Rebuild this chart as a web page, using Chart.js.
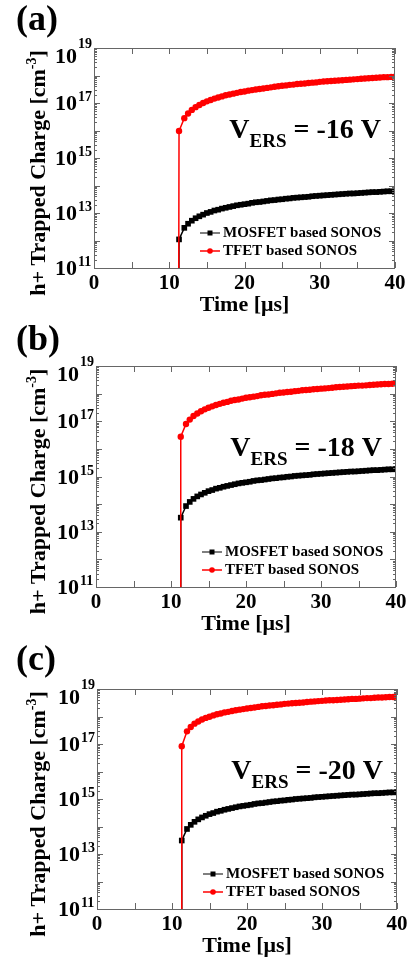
<!DOCTYPE html>
<html>
<head>
<meta charset="utf-8">
<script src="https://cdn.jsdelivr.net/npm/chart.js@4.4.1/dist/chart.umd.min.js"></script>
<style>
  body { margin: 0; background: #fff; }
  canvas { position: absolute; left: 0; }
</style>
</head>
<body>
<canvas id="chartA" width="413" height="320" style="top:0px"></canvas>
<canvas id="chartB" width="413" height="320" style="top:320px"></canvas>
<canvas id="chartC" width="413" height="320" style="top:640px"></canvas>
<script>
// time [us], first point is the off-axis start of the jump
const time = [11.25, 11.3, 12, 12.5, 13, 13.5, 14, 14.5, 15, 15.5, 16, 16.5, 17, 17.5, 18, 18.5, 19, 19.5,
  20, 20.5, 21, 21.5, 22, 22.5, 23, 23.5, 24, 24.5, 25, 25.5, 26, 26.5, 27, 27.5, 28, 28.5, 29, 29.5,
  30, 30.5, 31, 31.5, 32, 32.5, 33, 33.5, 34, 34.5, 35, 35.5, 36, 36.5, 37, 37.5, 38, 38.5, 39, 39.5, 40];

// log10 of trapped charge [cm-3]
const mosfetA = [9, 12.04, 12.46, 12.61, 12.72, 12.81, 12.88, 12.94, 13.00, 13.04, 13.09, 13.12, 13.16, 13.19, 13.22, 13.25, 13.28, 13.30,
  13.32, 13.34, 13.37, 13.39, 13.40, 13.42, 13.44, 13.46, 13.47, 13.49, 13.50, 13.52, 13.53, 13.55, 13.56, 13.57, 13.58, 13.59, 13.61, 13.62,
  13.63, 13.64, 13.65, 13.66, 13.67, 13.68, 13.69, 13.70, 13.71, 13.71, 13.72, 13.73, 13.74, 13.75, 13.76, 13.76, 13.77, 13.78, 13.79, 13.79, 13.80];
const tfetA = [9, 15.98, 16.45, 16.62, 16.75, 16.85, 16.93, 17.00, 17.06, 17.11, 17.16, 17.20, 17.24, 17.28, 17.31, 17.34, 17.37, 17.40,
  17.42, 17.45, 17.47, 17.49, 17.51, 17.53, 17.55, 17.57, 17.59, 17.61, 17.63, 17.64, 17.66, 17.67, 17.69, 17.70, 17.71, 17.73, 17.74, 17.75,
  17.77, 17.78, 17.79, 17.80, 17.81, 17.82, 17.83, 17.84, 17.85, 17.86, 17.87, 17.88, 17.89, 17.90, 17.91, 17.92, 17.93, 17.94, 17.94, 17.95, 17.96];
const mosfetB = [9, 13.51, 13.93, 14.08, 14.19, 14.28, 14.35, 14.41, 14.47, 14.51, 14.56, 14.59, 14.63, 14.66, 14.69, 14.72, 14.75, 14.77,
  14.79, 14.81, 14.84, 14.86, 14.87, 14.89, 14.91, 14.93, 14.94, 14.96, 14.97, 14.99, 15.00, 15.02, 15.03, 15.04, 15.05, 15.06, 15.08, 15.09,
  15.10, 15.11, 15.12, 15.13, 15.14, 15.15, 15.16, 15.17, 15.18, 15.18, 15.19, 15.20, 15.21, 15.22, 15.23, 15.23, 15.24, 15.25, 15.26, 15.26, 15.27];
const tfetB = [9, 16.44, 16.90, 17.06, 17.19, 17.28, 17.36, 17.43, 17.49, 17.54, 17.59, 17.63, 17.67, 17.70, 17.74, 17.77, 17.79, 17.82,
  17.85, 17.87, 17.89, 17.91, 17.94, 17.96, 17.97, 17.99, 18.01, 18.03, 18.04, 18.06, 18.07, 18.09, 18.10, 18.12, 18.13, 18.14, 18.16, 18.17,
  18.18, 18.19, 18.20, 18.21, 18.23, 18.24, 18.25, 18.26, 18.27, 18.28, 18.29, 18.29, 18.30, 18.31, 18.32, 18.33, 18.34, 18.35, 18.35, 18.36, 18.37];
const mosfetC = [9, 13.49, 13.91, 14.06, 14.17, 14.26, 14.33, 14.39, 14.45, 14.49, 14.54, 14.57, 14.61, 14.64, 14.67, 14.70, 14.73, 14.75,
  14.77, 14.79, 14.82, 14.84, 14.85, 14.87, 14.89, 14.91, 14.92, 14.94, 14.95, 14.97, 14.98, 15.00, 15.01, 15.02, 15.03, 15.04, 15.06, 15.07,
  15.08, 15.09, 15.10, 15.11, 15.12, 15.13, 15.14, 15.15, 15.16, 15.16, 15.17, 15.18, 15.19, 15.20, 15.21, 15.21, 15.22, 15.23, 15.24, 15.24, 15.25];
const tfetC = [9, 16.92, 17.46, 17.62, 17.74, 17.82, 17.89, 17.95, 17.99, 18.04, 18.08, 18.11, 18.15, 18.17, 18.20, 18.23, 18.25, 18.27,
  18.29, 18.31, 18.33, 18.35, 18.37, 18.38, 18.40, 18.41, 18.43, 18.44, 18.46, 18.47, 18.48, 18.49, 18.50, 18.51, 18.53, 18.54, 18.55, 18.56,
  18.57, 18.58, 18.59, 18.59, 18.60, 18.61, 18.62, 18.63, 18.64, 18.64, 18.65, 18.66, 18.67, 18.67, 18.68, 18.69, 18.69, 18.70, 18.71, 18.71, 18.72];

const xTicks = [0, 10, 20, 30, 40];
const xMinorTicks = [5, 15, 25, 35];
const yTickExp = [11, 13, 15, 17, 19];

const FONT = "'Liberation Serif', 'Times New Roman', serif";

function points(logs) {
  return time.map((t, i) => ({ x: t, y: Math.pow(10, logs[i]) }));
}

const decor = {
  id: "decor",
  afterDraw(chart, args, opts) {
    const { ctx, chartArea: a } = chart;
    const xs = chart.scales.x;
    const ys = chart.scales.y;
    ctx.save();

    // frame
    ctx.strokeStyle = "#666";
    ctx.lineWidth = 1;
    ctx.strokeRect(a.left + 0.5, a.top + 0.5, a.right - a.left - 1, a.bottom - a.top);

    // y ticks (inside, both sides)
    ctx.beginPath();
    for (let e = 11; e <= 18; e++) {
      for (let m = 1; m <= 9; m++) {
        const py = Math.round(ys.getPixelForValue(m * Math.pow(10, e))) + 0.5;
        const len = m === 1 ? 6 : 3;
        ctx.moveTo(a.left, py); ctx.lineTo(a.left + len, py);
        ctx.moveTo(a.right, py); ctx.lineTo(a.right - len, py);
      }
    }
    // x ticks
    xTicks.concat(xMinorTicks).forEach((t) => {
      const px = Math.round(xs.getPixelForValue(t)) + 0.5;
      ctx.moveTo(px, a.bottom); ctx.lineTo(px, a.bottom - 6);
      ctx.moveTo(px, a.top); ctx.lineTo(px, a.top + 6);
    });
    ctx.stroke();

    ctx.fillStyle = "#000";
    // y tick labels 10^n
    yTickExp.forEach((e) => {
      const py = ys.getPixelForValue(Math.pow(10, e));
      const top = e === 19;
      ctx.font = "bold 22px " + FONT;
      ctx.textAlign = "right";
      ctx.textBaseline = "middle";
      ctx.fillText("10", a.left - 17, py + (top ? 9 : 1.5));
      ctx.font = "bold 14px " + FONT;
      ctx.textAlign = "left";
      ctx.fillText(String(e), a.left - 16, py + (top ? -4 : -5.5));
    });

    // x tick labels
    ctx.font = "bold 21px " + FONT;
    ctx.textAlign = "center";
    ctx.textBaseline = "middle";
    xTicks.forEach((t) => {
      ctx.fillText(String(t), xs.getPixelForValue(t), a.bottom + 16);
    });

    // axis titles
    ctx.font = "bold 22px " + FONT;
    ctx.fillText("Time [\u03bcs]", (a.left + a.right) / 2, a.bottom + 37);

    ctx.save();
    ctx.translate(39, (a.top + a.bottom) / 2 + 15);
    ctx.rotate(-Math.PI / 2);
    const t1 = "h+ Trapped Charge [cm";
    ctx.font = "bold 22px " + FONT;
    const w1 = ctx.measureText(t1).width;
    const w3 = ctx.measureText("]").width;
    ctx.font = "bold 14px " + FONT;
    const w2 = ctx.measureText("-3").width;
    let sx = -(w1 + w2 + w3) / 2;
    ctx.textAlign = "left";
    ctx.font = "bold 22px " + FONT;
    ctx.fillText(t1, sx, 0);
    ctx.font = "bold 14px " + FONT;
    ctx.fillText("-3", sx + w1, -7);
    ctx.font = "bold 22px " + FONT;
    ctx.fillText("]", sx + w1 + w2, 0);
    ctx.restore();

    // panel label
    ctx.font = "bold 36px " + FONT;
    ctx.textAlign = "left";
    ctx.fillText(opts.label, 16, 21);

    // V_ERS annotation
    ctx.textBaseline = "alphabetic";
    ctx.font = "bold 28px " + FONT;
    const wv = ctx.measureText("V").width;
    const rest = " = " + opts.volt + " V";
    const wr = ctx.measureText(rest).width;
    ctx.font = "bold 19px " + FONT;
    const ws = ctx.measureText("ERS").width;
    let vx = a.right - 14 - (wv + ws + wr);
    const vy = a.top + 90;
    ctx.font = "bold 28px " + FONT;
    ctx.fillText("V", vx, vy);
    ctx.font = "bold 19px " + FONT;
    ctx.fillText("ERS", vx + wv, vy + 9);
    ctx.font = "bold 28px " + FONT;
    ctx.fillText(rest, vx + wv + ws, vy);

    // legend
    const lx = a.left + 106;
    const rows = [
      { text: "MOSFET based SONOS", color: "#000", line: "#555", y: a.bottom - 35, square: true },
      { text: "TFET based SONOS", color: "#ff0000", line: "#ff0000", y: a.bottom - 17, square: false },
    ];
    rows.forEach((r) => {
      ctx.strokeStyle = r.line;
      ctx.lineWidth = 1.5;
      ctx.beginPath();
      ctx.moveTo(lx, r.y); ctx.lineTo(lx + 20, r.y);
      ctx.stroke();
      ctx.fillStyle = r.color;
      if (r.square) {
        ctx.fillRect(lx + 7.5, r.y - 2.5, 5, 5);
      } else {
        ctx.beginPath();
        ctx.arc(lx + 10, r.y, 2.8, 0, Math.PI * 2);
        ctx.fill();
      }
      ctx.fillStyle = "#000";
      ctx.font = "bold 15px " + FONT;
      ctx.textBaseline = "middle";
      ctx.fillText(r.text, lx + 23, r.y);
    });

    ctx.restore();
  },
};

function makePanel(id, tfet, mosfet, pad, label, volt) {
  const el = document.getElementById(id);
  new Chart(el, {
    type: "line",
    data: {
      datasets: [
        {
          label: "TFET based SONOS",
          data: points(tfet),
          borderColor: "#ff0000",
          backgroundColor: "#ff0000",
          borderWidth: 1.5,
          pointStyle: "circle",
          pointRadius: (c) => (c.dataIndex === 0 ? 0 : 3.2),
          pointBorderWidth: 0,
          tension: 0,
        },
        {
          label: "MOSFET based SONOS",
          data: points(mosfet),
          borderColor: "#000",
          backgroundColor: "#000",
          borderWidth: 1.5,
          pointStyle: "rect",
          pointRadius: (c) => (c.dataIndex === 0 ? 0 : 4),
          pointBorderWidth: 0,
          tension: 0,
        },
      ],
    },
    options: {
      responsive: false,
      animation: false,
      events: [],
      layout: { padding: pad },
      scales: {
        x: { type: "linear", min: 0, max: 40, display: false },
        y: { type: "logarithmic", min: 1e11, max: 1e19, display: false },
      },
      plugins: {
        legend: { display: false },
        tooltip: { enabled: false },
        decor: { label: label, volt: volt },
      },
    },
    plugins: [decor],
  });
}

makePanel("chartA", tfetA, mosfetA, { left: 94, right: 18, top: 48, bottom: 52 }, "(a)", "-16");
makePanel("chartB", tfetB, mosfetB, { left: 96, right: 17, top: 46, bottom: 53 }, "(b)", "-18");
makePanel("chartC", tfetC, mosfetC, { left: 97, right: 16, top: 49, bottom: 51 }, "(c)", "-20");
</script>
</body>
</html>
